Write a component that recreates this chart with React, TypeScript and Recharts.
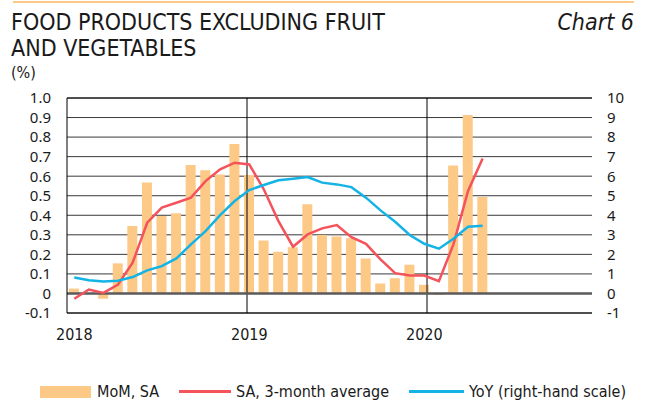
import React from "react";
import {
  ComposedChart,
  Bar,
  Line,
  XAxis,
  YAxis,
  CartesianGrid,
  ReferenceLine,
} from "recharts";

const months = [
  "2018-01", "2018-02", "2018-03", "2018-04", "2018-05", "2018-06",
  "2018-07", "2018-08", "2018-09", "2018-10", "2018-11", "2018-12",
  "2019-01", "2019-02", "2019-03", "2019-04", "2019-05", "2019-06",
  "2019-07", "2019-08", "2019-09", "2019-10", "2019-11", "2019-12",
  "2020-01", "2020-02", "2020-03", "2020-04", "2020-05", "2020-06",
  "2020-07", "2020-08", "2020-09", "2020-10", "2020-11", "2020-12",
];

// MoM, SA (left scale)
const mom = [
  0.025, 0.0, -0.027, 0.154, 0.345, 0.568, 0.396, 0.41, 0.657, 0.63, 0.609, 0.765,
  0.606, 0.271, 0.213, 0.236, 0.456, 0.299, 0.292, 0.283, 0.179, 0.051, 0.078, 0.147,
  0.044, -0.008, 0.655, 0.913, 0.493,
];

// SA, 3-month average (left scale)
const avg3 = [
  -0.027, 0.02, 0.003, 0.046, 0.157, 0.362, 0.439, 0.464, 0.49, 0.575, 0.635, 0.669,
  0.66, 0.532, 0.37, 0.239, 0.302, 0.333, 0.35, 0.288, 0.254, 0.174, 0.104, 0.092,
  0.092, 0.063, 0.251, 0.524, 0.691,
];

// YoY (right-hand scale)
const yoy = [
  0.82, 0.68, 0.61, 0.65, 0.84, 1.18, 1.4, 1.79, 2.51, 3.19, 4.01, 4.73,
  5.29, 5.55, 5.79, 5.87, 5.96, 5.67, 5.58, 5.44, 4.9, 4.25, 3.67, 2.99,
  2.54, 2.29, 2.8, 3.41, 3.46,
];

const leftTicks = [-0.1, 0, 0.1, 0.2, 0.3, 0.4, 0.5, 0.6, 0.7, 0.8, 0.9, 1.0];
const rightTicks = [-1, 0, 1, 2, 3, 4, 5, 6, 7, 8, 9, 10];
const yearTicks = ["2018-01", "2019-01", "2020-01"];
const yearBounds = [12, 24];

const data = months.map((m, i) => ({
  month: m,
  mom: mom[i] ?? null,
  avg3: avg3[i] ?? null,
  yoy: yoy[i] ?? null,
}));

const BAR = "#FDC986";
const RED = "#F4535B";
const BLUE = "#14B3E6";
const GRID = "#3a3a3a";
const narrow = "'DejaVu Sans', sans-serif";
const tickFont = { fontSize: 15, fill: "#1A1A1A", fontFamily: "'Noto Sans', sans-serif" };

export default function App() {
  return (
    <div style={{ position: "absolute", left: 0, top: 0, width: 646, height: 405, background: "#fff" }}>
      <div style={{ position: "absolute", left: 13, top: 1, width: 621, height: 2, background: BAR }} />
      <div
        style={{
          position: "absolute",
          left: 11,
          top: 9,
          fontFamily: narrow,
          fontStretch: "condensed",
          fontSize: 23,
          lineHeight: "26px",
          color: "#1A1A1A",
        }}
      >
        FOOD PRODUCTS EXCLUDING FRUIT
        <br />
        AND VEGETABLES
      </div>
      <div
        style={{
          position: "absolute",
          right: 12,
          top: 9,
          fontFamily: narrow,
          fontStretch: "condensed",
          fontStyle: "italic",
          fontSize: 23,
          lineHeight: "26px",
          color: "#1A1A1A",
        }}
      >
        Chart 6
      </div>
      <div
        style={{
          position: "absolute",
          left: 11,
          top: 63,
          fontFamily: narrow,
          fontStretch: "condensed",
          fontSize: 16,
          color: "#1A1A1A",
        }}
      >
        (%)
      </div>

      <div style={{ position: "absolute", left: 0, top: 0 }}>
        <ComposedChart
          width={646}
          height={405}
          data={data}
          margin={{ top: 98, right: 0, bottom: 62, left: 0 }}
          barSize={10}
        >
          <XAxis
            dataKey="month"
            ticks={yearTicks}
            tickFormatter={(v: string) => v.slice(0, 4)}
            interval={0}
            height={30}
            tickLine={false}
            axisLine={false}
            tickSize={0}
            tickMargin={16}
            tick={{ fontSize: 16, fill: "#1A1A1A", fontFamily: narrow, fontStretch: "condensed" }}
          />
          <XAxis xAxisId="num" type="number" domain={[0, 36]} hide />
          <YAxis
            yAxisId="left"
            domain={[-0.1, 1.0]}
            ticks={leftTicks}
            interval={0}
            tickFormatter={(v: number) => (v === 0 ? "0" : v.toFixed(1))}
            width={67}
            tickLine={false}
            axisLine={false}
            tickSize={0}
            tickMargin={16}
            tick={tickFont}
            allowDataOverflow
          />
          <YAxis
            yAxisId="right"
            orientation="right"
            domain={[-1, 10]}
            ticks={rightTicks}
            interval={0}
            width={54}
            tickLine={false}
            axisLine={false}
            tickSize={0}
            tickMargin={15}
            tick={{ ...tickFont, textAnchor: "start" }}
            allowDataOverflow
          />
          <CartesianGrid yAxisId="left" vertical={false} stroke={GRID} strokeWidth={1} />
          {yearBounds.map((x) => (
            <ReferenceLine key={x} xAxisId="num" yAxisId="left" x={x} stroke="#000" strokeWidth={1} />
          ))}
          <Bar yAxisId="left" dataKey="mom" fill={BAR} isAnimationActive={false} />
          <ReferenceLine yAxisId="left" y={0} stroke="#5a5a5a" strokeWidth={2.5} />
          <Line
            yAxisId="left"
            type="linear"
            dataKey="avg3"
            stroke={RED}
            strokeWidth={2.5}
            dot={false}
            isAnimationActive={false}
          />
          <Line
            yAxisId="right"
            type="linear"
            dataKey="yoy"
            stroke={BLUE}
            strokeWidth={2.5}
            dot={false}
            isAnimationActive={false}
          />
          <ReferenceLine xAxisId="num" yAxisId="left" x={0} stroke="#000" strokeWidth={1} />
          <ReferenceLine xAxisId="num" yAxisId="left" x={36} stroke="#000" strokeWidth={1} />
          <ReferenceLine yAxisId="left" y={1.0} stroke="#000" strokeWidth={1} />
          <ReferenceLine yAxisId="left" y={-0.1} stroke="#000" strokeWidth={1} />
        </ComposedChart>
      </div>

      <div
        style={{
          position: "absolute",
          left: 40,
          top: 382,
          display: "flex",
          alignItems: "center",
          fontFamily: narrow,
          fontStretch: "condensed",
          fontSize: 16,
          color: "#1A1A1A",
          whiteSpace: "nowrap",
        }}
      >
        <span style={{ display: "inline-block", width: 51, height: 12, background: BAR, marginRight: 6 }} />
        <span style={{ marginRight: 20 }}>MoM, SA</span>
        <span style={{ display: "inline-block", width: 52, height: 3, background: RED, marginRight: 5 }} />
        <span style={{ marginRight: 20 }}>SA, 3-month average</span>
        <span style={{ display: "inline-block", width: 55, height: 3, background: BLUE, marginRight: 5 }} />
        <span>YoY (right-hand scale)</span>
      </div>
    </div>
  );
}
